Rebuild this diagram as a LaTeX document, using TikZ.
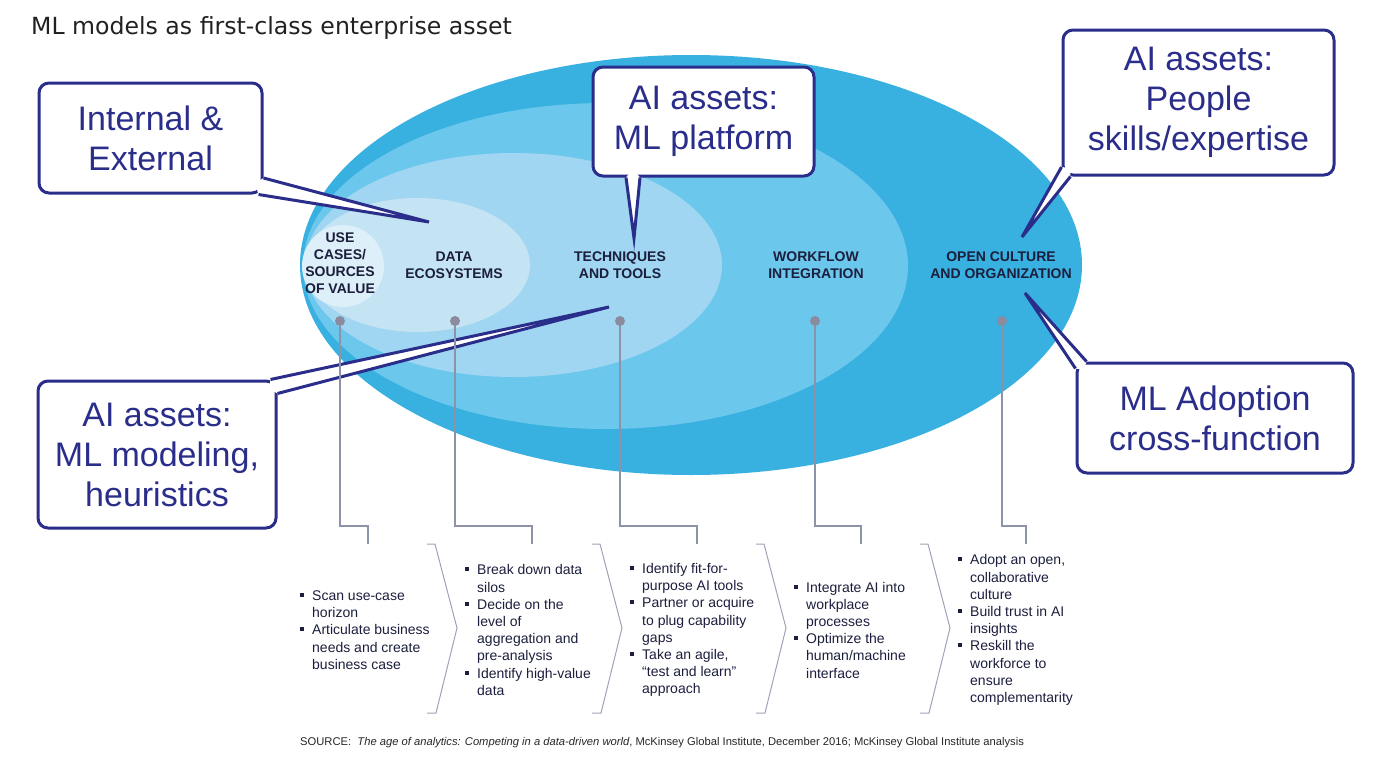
\documentclass[tikz,border=0pt]{standalone}
\usepackage{fontspec}
\setmainfont{Liberation Sans}
\newfontfamily\titlefont{DejaVu Sans}
\usepackage{xcolor}
\usepackage{tikz}
\usetikzlibrary{calc}
\definecolor{outerblue}{HTML}{38B0E0}
\definecolor{midblue}{HTML}{6CC7ED}
\definecolor{paleblue}{HTML}{A0D6F1}
\definecolor{mistblue}{HTML}{C4E3F3}
\definecolor{coreblue}{HTML}{DDEFF8}
\definecolor{navy}{HTML}{2A2D8A}
\definecolor{leadgray}{HTML}{8C93A8}
\definecolor{dotgray}{HTML}{8A8B9E}
\definecolor{inkdark}{HTML}{1B1E3C}
\newcommand\bsq{\rule[3.5pt]{4pt}{4pt}}
\newcommand\itm{\makebox[12pt][l]{\bsq}}
\newcommand\ind{\hspace*{12pt}}
\newcommand\pointer[4]{\fill[white] (#1) -- (#2) -- (#3) -- (#4) -- cycle; \draw[callline] (#1) -- (#2) -- (#3);}
\tikzstyle{callbox}=[draw=navy,line width=3pt,fill=white,rounded corners=10pt,text=navy,font=\fontsize{34}{40}\selectfont,align=center,inner sep=0pt]
\tikzstyle{callline}=[draw=navy,line width=3pt]
\tikzstyle{ringlabel}=[font=\fontsize{14}{17}\selectfont\bfseries,text=inkdark,align=center,inner sep=0pt]
\tikzstyle{knob}=[circle,fill=dotgray,inner sep=0pt,minimum size=10pt]
\tikzstyle{lead}=[draw=leadgray,line width=1.5pt]
\tikzstyle{chevron}=[draw=leadgray!85,line width=1pt]
\tikzstyle{actions}=[font=\fontsize{14}{17.2}\selectfont,text=inkdark,anchor=west,align=left,inner sep=0pt]

\begin{document}
\begin{tikzpicture}[x=1pt,y=-1pt]
	\useasboundingbox (0,0) rectangle (1400,771);
	\node[anchor=west,inner sep=0pt,text=black!87,font=\titlefont\fontsize{23.6}{28}\selectfont] (title) at (31,28) {ML models as first-class enterprise asset};
	% nested rings
	\fill[outerblue] (691,265) ellipse [x radius=391pt, y radius=210pt];
	\fill[midblue] (605.5,266) ellipse [x radius=302.5pt, y radius=163pt];
	\fill[paleblue] (513.5,265) ellipse [x radius=208.5pt, y radius=112pt];
	\fill[mistblue] (417.5,265) ellipse [x radius=112.5pt, y radius=67pt];
	\fill[coreblue] (343,266) ellipse [x radius=41pt, y radius=41pt];
	\node[ringlabel] (usecases) at (340,263) {USE\\CASES/\\SOURCES\\OF VALUE};
	\node[ringlabel] (dataeco) at (454,265.5) {DATA\\ECOSYSTEMS};
	\node[ringlabel] (techtools) at (620,265.5) {TECHNIQUES\\AND TOOLS};
	\node[ringlabel] (workflow) at (816,265.5) {WORKFLOW\\INTEGRATION};
	\node[ringlabel] (culture) at (1001,265.5) {OPEN CULTURE\\AND ORGANIZATION};
	% callouts
	\node[callbox,minimum width=223pt,minimum height=110pt] (intext) at (150.5,138) {Internal \&\\External};
	\node[callbox,minimum width=221pt,minimum height=109pt] (platform) at (703.5,121.5) {AI assets:\\ML platform};
	\node[callbox,minimum width=271pt,minimum height=145pt] (people) at (1198.5,102.5) {AI assets:\\People\\skills/expertise};
	\node[callbox,minimum width=238pt,minimum height=147pt] (modeling) at (157,454.5) {AI assets:\\ML modeling,\\heuristics};
	\node[callbox,minimum width=276pt,minimum height=110pt] (adoption) at (1215,418) {ML Adoption\\cross-function};
	\coordinate (intextA) at ($(intext.east)+(0,40)$);
	\coordinate (intextB) at ($(intext.south east)+(-5,0)$);
	\coordinate (intextC) at (255,184);
	\coordinate (intextTip) at (429,222);
	\pointer{intextA}{intextTip}{intextB}{intextC}
	\coordinate (platformA) at ($(platform.south)+(-77.5,0)$);
	\coordinate (platformB) at ($(platform.south)+(-63.5,0)$);
	\coordinate (platformC) at (633,169);
	\coordinate (platformTip) at (634,238);
	\pointer{platformA}{platformTip}{platformB}{platformC}
	\coordinate (peopleA) at ($(people.west)+(0,64.5)$);
	\coordinate (peopleB) at ($(people.south west)+(9,0)$);
	\coordinate (peopleC) at (1070,168);
	\coordinate (peopleTip) at (1022,237);
	\pointer{peopleA}{peopleTip}{peopleB}{peopleC}
	\coordinate (modelingA) at ($(modeling.north east)+(-7,0)$);
	\coordinate (modelingB) at ($(modeling.north east)+(0,14)$);
	\coordinate (modelingC) at (269,389);
	\coordinate (modelingTip) at (609,307);
	\pointer{modelingA}{modelingTip}{modelingB}{modelingC}
	\coordinate (adoptionA) at ($(adoption.north west)+(11,0)$);
	\coordinate (adoptionB) at ($(adoption.north west)+(0,7)$);
	\coordinate (adoptionC) at (1084,370);
	\coordinate (adoptionTip) at (1025,293);
	\pointer{adoptionA}{adoptionTip}{adoptionB}{adoptionC}
	% leads to the steps
	\foreach \n/\x/\e in {a/340/368,b/455/532,c/620/697,d/815/861,e/1002/1026}{
		\node[knob] (dot\n) at (\x,321) {};
		\coordinate (top\n) at (\e,544);
		\draw[lead] (dot\n) -- (dot\n |- 0,526) -| (top\n);
	}
	\foreach \x in {427,592,756,920}
		\draw[chevron] (\x,544) -- ++(8,0) -- ++(22,84) -- ++(-21,85) -- ++(-9,0);
	\node[actions] (stepa) at (300,630) {\itm Scan use-case\\\ind horizon\\\itm Articulate business\\\ind needs and create\\\ind business case};
	\node[actions] (stepb) at (465,630) {\itm Break down data\\\ind silos\\\itm Decide on the\\\ind level of\\\ind aggregation and\\\ind pre-analysis\\\itm Identify high-value\\\ind data};
	\node[actions] (stepc) at (630,630) {\itm Identify fit-for-\\\ind purpose AI tools\\\itm Partner or acquire\\\ind to plug capability\\\ind gaps\\\itm Take an agile,\\\ind “test and learn”\\\ind approach};
	\node[actions] (stepd) at (794,630) {\itm Integrate AI into\\\ind workplace\\\ind processes\\\itm Optimize the\\\ind human/machine\\\ind interface};
	\node[actions] (stepe) at (958,630) {\itm Adopt an open,\\\ind collaborative\\\ind culture\\\itm Build trust in AI\\\ind insights\\\itm Reskill the\\\ind workforce to\\\ind ensure\\\ind complementarity};
	\node[anchor=west,inner sep=0pt,text=black!85,font=\fontsize{11.2}{13}\selectfont] (source) at (300,743) {SOURCE:\ \ \textit{The age of analytics: Competing in a data-driven world}, McKinsey Global Institute, December 2016; McKinsey Global Institute analysis};
\end{tikzpicture}
\end{document}
